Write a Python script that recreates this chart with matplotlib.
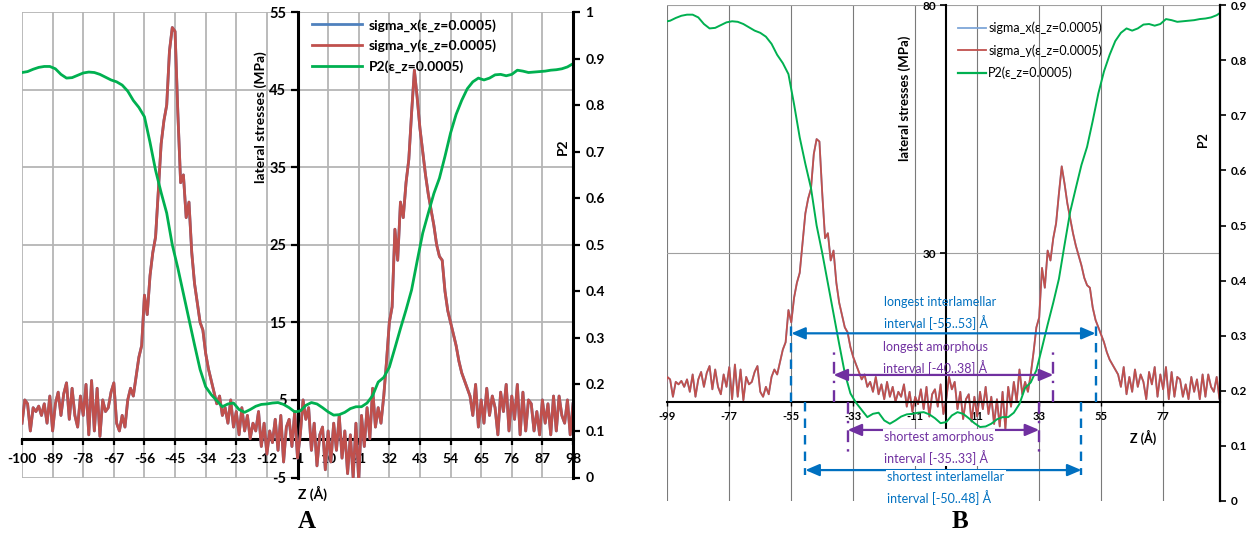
import numpy as np
import matplotlib
matplotlib.use('Agg')
import matplotlib.pyplot as plt
from matplotlib.lines import Line2D

plt.rcParams['font.family'] = ['Lato', 'DejaVu Sans']

# ---------------- data ----------------
z = np.arange(-100, 99)  # Z (Å), one category per Å

sigma_y = [
    2.0, 5.0, 4.5, 1.0, 4.0, 3.5, 4.2, 3.0, 4.5, 2.0,        # -100..-91
    5.5, 1.0, 4.5, 6.0, 3.0, 5.8, 7.2, 2.5, 6.5, 3.0,        # -90..-81
    1.5, 5.5, 3.0, 7.0, 0.5, 7.5, 1.0, 6.5, 0.3, 5.0,        # -80..-71
    3.5, 4.0, 6.0, 7.2, 2.0, 1.0, 3.0, 1.5, 5.0, 6.5,        # -70..-61
    5.5, 8.0, 10.5, 12.0, 18.5, 16.0, 21.0, 24.0, 26.0, 32.0,  # -60..-51
    38.0, 41.0, 43.0, 50.0, 53.0, 52.5, 42.0, 33.0, 34.0, 28.5,  # -50..-41
    30.5, 24.0, 20.0, 17.5, 15.0, 14.0, 11.0, 9.0, 7.5, 6.0,   # -40..-31
    4.5, 5.5, 3.0, 4.0, 2.0, 5.0, 1.5, 3.5, 0.5, 4.0,        # -30..-21
    1.0, 3.0, 0.0, 2.0, 1.0, 3.5, -1.0, 2.0, -2.0, 1.0,      # -20..-11
    -0.5, 2.5, -1.5, 3.0, -3.0, 1.5, 2.5, -1.0, 3.5, -2.5,   # -10..-1
    0.5, 5.0, 2.5, 4.0, -1.5, 2.0, -3.5, 0.5, 1.5, -4.0,     # 0..9
    1.0, -3.0, 2.0, -1.5, 3.0, -2.5, 1.0, -4.5, 0.5, -5.0,   # 10..19
    2.0, -5.5, 3.0, -1.0, 4.0, 0.0, 6.5, 1.5, 4.0, 2.0,      # 20..29
    5.5, 10.0, 15.0, 17.0, 27.0, 23.0, 30.5, 28.5, 33.0, 36.0,  # 30..39
    42.0, 47.5, 44.0, 40.0, 37.0, 34.0, 31.5, 29.5, 27.5, 25.0,  # 40..49
    23.5, 23.0, 19.0, 16.5, 15.0, 13.5, 12.0, 10.0, 8.5, 7.5,  # 50..59
    6.5, 5.5, 3.0, 7.0, 1.5, 5.0, 2.0, 6.5, 3.0, 5.5,        # 60..69
    4.0, 0.5, 6.0, 3.5, 7.0, 1.0, 5.5, 2.5, 7.0, 0.5,        # 70..79
    6.0, 1.0, 5.0, 4.5, 1.0, 3.5, 0.5, 5.0, 2.0, 4.5,        # 80..89
    0.5, 5.5, 1.0, 5.5, 3.0, 2.0, 5.0, 0.5, 4.5,             # 90..98
]
# the blue sigma_x series lies exactly underneath the red sigma_y series
sigma_x = list(sigma_y)

p2_z = np.arange(-100, 99, 2)
p2 = [
    0.870, 0.872, 0.877, 0.881, 0.883, 0.883, 0.878, 0.866, 0.858, 0.859,  # -100..-82
    0.864, 0.869, 0.871, 0.870, 0.866, 0.860, 0.854, 0.850, 0.843, 0.830,  # -80..-62
    0.810, 0.795, 0.775, 0.720, 0.660, 0.612, 0.568, 0.500, 0.450, 0.395,  # -60..-42
    0.340, 0.285, 0.232, 0.195, 0.178, 0.165, 0.152, 0.158, 0.160, 0.146,  # -40..-22
    0.140, 0.146, 0.153, 0.157, 0.158, 0.160, 0.161, 0.157, 0.150, 0.141,  # -20..-2
    0.143, 0.155, 0.161, 0.158, 0.150, 0.141, 0.134, 0.135, 0.140, 0.148,  # 0..18
    0.152, 0.152, 0.160, 0.176, 0.205, 0.215, 0.237, 0.278, 0.320, 0.360,  # 20..38
    0.403, 0.465, 0.525, 0.568, 0.610, 0.643, 0.690, 0.740, 0.780, 0.810,  # 40..58
    0.835, 0.850, 0.858, 0.854, 0.858, 0.865, 0.866, 0.863, 0.866, 0.875,  # 60..78
    0.873, 0.870, 0.871, 0.872, 0.873, 0.875, 0.876, 0.878, 0.882, 0.889,  # 80..98
]

series_names = ['sigma_x(ε_z=0.0005)', 'sigma_y(ε_z=0.0005)', 'P2(ε_z=0.0005)']

xticks_A = list(range(-100, 99, 11))
yticks_A = [-5, 5, 15, 25, 35, 45, 55]
p2ticks_A = [0, 0.1, 0.2, 0.3, 0.4, 0.5, 0.6, 0.7, 0.8, 0.9, 1.0]
p2labels_A = ['0', '0.1', '0.2', '0.3', '0.4', '0.5', '0.6', '0.7', '0.8', '0.9', '1']

xticks_B = list(range(-99, 78, 22))
yticks_B = [30, 80]
p2ticks_B = [0, 0.1, 0.2, 0.3, 0.4, 0.5, 0.6, 0.7, 0.8, 0.9]
p2labels_B = ['0', '0.1', '0.2', '0.3', '0.4', '0.5', '0.6', '0.7', '0.8', '0.9']

# intervals annotated in panel B: (text, low, high)
intervals = [
    ('longest interlamellar\ninterval [-55..53] Å', -55, 53),
    ('longest amorphous\ninterval [-40..38] Å', -40, 38),
    ('shortest amorphous\ninterval [-35..33] Å', -35, 33),
    ('shortest interlamellar\ninterval [-50..48] Å', -50, 48),
]

# ---------------- figure ----------------
W, H = 1257, 535
fig = plt.figure(figsize=(W / 100, H / 100), dpi=100)


def box(l, t, r, b):
    return [l / W, 1 - b / H, (r - l) / W, (b - t) / H]


def fx(x):
    return x / W


def fy(y):
    return 1 - y / H


RED = '#C0504D'
GREEN = '#00B050'

# ================= Panel A =================
axA = fig.add_axes(box(22, 12, 573, 477.5))
axA.set_xlim(-100, 98)
axA.set_ylim(-5, 55)
axA.set_xticks(xticks_A)
axA.set_xticklabels([str(v) for v in xticks_A])
axA.set_yticks(yticks_A)
axA.set_yticklabels([str(v) for v in yticks_A])
axA.grid(True, color='#b5b5b5', lw=1.3)
axA.set_axisbelow(True)
for s in ['top', 'right']:
    axA.spines[s].set_visible(False)
axA.spines['bottom'].set_position(('data', 0))
axA.spines['left'].set_position(('data', -1))
for s in ['bottom', 'left']:
    axA.spines[s].set_linewidth(2.2)
    axA.spines[s].set_color('black')
    axA.spines[s].set_zorder(1.5)
axA.tick_params(axis='x', direction='out', length=4, width=1.6, pad=6,
                labelsize=10)
axA.tick_params(axis='y', direction='out', length=5, width=1.6, pad=3,
                labelsize=10.5)
for lab in axA.get_xticklabels() + axA.get_yticklabels():
    lab.set_fontweight('bold')

axA.plot(z, sigma_x, color='#4F81BD', lw=2.0)
axA.plot(z, sigma_y, color=RED, lw=2.0)

axA2 = axA.twinx()
axA2.set_ylim(0, 1)
axA2.set_xlim(-100, 98)
axA2.set_yticks(p2ticks_A)
axA2.set_yticklabels(p2labels_A)
for s in ['top', 'left', 'bottom']:
    axA2.spines[s].set_visible(False)
axA2.spines['right'].set_linewidth(2.2)
axA2.tick_params(axis='y', direction='out', length=5, width=1.6, pad=4,
                 labelsize=10)
for lab in axA2.get_yticklabels():
    lab.set_fontweight('bold')
axA2.plot(p2_z, p2, color=GREEN, lw=2.0)

hA = [Line2D([], [], color='#4F81BD', lw=2.0),
      Line2D([], [], color=RED, lw=2.0),
      Line2D([], [], color=GREEN, lw=2.0)]
legA = axA2.legend(hA, series_names, loc='upper left',
                   bbox_to_anchor=(fx(309), fy(16)),
                   bbox_transform=fig.transFigure, frameon=False,
                   borderpad=0.2, borderaxespad=0,
                   handlelength=3.6, handletextpad=0.5, labelspacing=0.58,
                   prop=dict(weight='bold', size=10))

fig.text(fx(261), fy(117), 'lateral stresses (MPa)', rotation=90,
         ha='center', va='center', fontsize=10, fontweight='bold')
fig.text(fx(563), fy(147), 'P2', rotation=90, ha='center', va='center',
         fontsize=10, fontweight='bold')
fig.text(fx(312), fy(493), 'Z (Å)', ha='center', va='center',
         fontsize=10, fontweight='bold')
fig.text(fx(307), fy(521), 'A', ha='center', va='center', fontsize=18,
         fontweight='bold', family='Liberation Serif')

# ================= Panel B =================
axB = fig.add_axes(box(667.3, 5.3, 1219.5, 500.8))
axB.set_xlim(-99, 97)
axB.set_ylim(-20, 80)
axB.set_xticks(xticks_B)
axB.set_xticklabels([str(v) for v in xticks_B])
axB.set_yticks(yticks_B)
axB.set_yticklabels([str(v) for v in yticks_B])
axB.grid(True, axis='x', color='#7a7a7a', lw=0.8)
axB.grid(True, axis='y', color='#a0a0a0', lw=0.8)
axB.set_axisbelow(True)
for s in ['top', 'right']:
    axB.spines[s].set_visible(False)
axB.spines['bottom'].set_position(('data', 0))
axB.spines['left'].set_position(('data', 0))
for s in ['bottom', 'left']:
    axB.spines[s].set_linewidth(1.5)
    axB.spines[s].set_color('black')
axB.tick_params(axis='x', direction='out', length=3, width=1.0, pad=4,
                labelsize=8)
axB.tick_params(axis='y', direction='out', length=4, width=1.2, pad=3,
                labelsize=8.5)
for lab in axB.get_xticklabels() + axB.get_yticklabels():
    lab.set_fontweight('bold')

axB.plot(z, sigma_x, color='#7EA6D8', lw=1.3)
axB.plot(z, sigma_y, color=RED, lw=1.3)

axB2 = axB.twinx()
axB2.set_yticks(p2ticks_B)
axB2.set_yticklabels(p2labels_B)
for s in ['top', 'left', 'bottom']:
    axB2.spines[s].set_visible(False)
axB2.spines['right'].set_linewidth(1.6)
axB2.tick_params(axis='y', direction='out', length=4, width=1.2, pad=4,
                 labelsize=8.5)
for lab in axB2.get_yticklabels():
    lab.set_fontweight('bold')
axB2.plot(p2_z, p2, color=GREEN, lw=1.4)

# interval annotations (drawn above the curves, in stress coordinates)
BLUE = '#0070C0'
PURPLE = '#7030A0'
ann_style = [
    # arrow_y, dash_end, color, dash pattern, text_x, text_y, white box
    (13.8, 16.0, BLUE, (0, (4, 3)), -22.0, 17.8, False),
    (5.4, 10.3, PURPLE, (0, (5, 3, 1, 3)), -22.6, 8.8, False),
    (-5.7, -10.2, PURPLE, (0, (5, 3, 1, 3)), -22.0, -9.3, True),
    (-13.8, -14.8, BLUE, (0, (4, 3)), -21.0, -17.4, True),
]
tB = axB.transData
for (txt, lo, hi), (ay, dend, col, dash, tx, ty, wb) in zip(intervals, ann_style):
    for xv in (lo, hi):
        axB2.add_line(Line2D([xv, xv], [0, dend], transform=tB, color=col,
                             ls=dash, lw=1.7))
    axB2.annotate('', xy=(hi, ay), xytext=(lo, ay), xycoords=tB,
                  textcoords=tB,
                  arrowprops=dict(arrowstyle='<|-|>,head_length=0.7,head_width=0.3',
                                  color=col, lw=1.6, shrinkA=0, shrinkB=0,
                                  mutation_scale=12))
    bb = dict(facecolor='white', edgecolor='none', pad=1.0) if wb else None
    axB2.text(tx, ty, txt, transform=tB, color=col, fontsize=9,
              ha='left', va='center', linespacing=1.55, bbox=bb)

axB2.set_xlim(-99, 97)
axB2.set_ylim(0, 0.9)

hB = [Line2D([], [], color='#7EA6D8', lw=1.3),
      Line2D([], [], color=RED, lw=1.3),
      Line2D([], [], color=GREEN, lw=1.6)]
legB = axB2.legend(hB, series_names, loc='upper left',
                   bbox_to_anchor=(fx(955), fy(19)),
                   bbox_transform=fig.transFigure, frameon=False,
                   borderpad=0.2, borderaxespad=0,
                   handlelength=2.3, handletextpad=0.15, labelspacing=0.8,
                   prop=dict(size=9))

fig.text(fx(905), fy(98), 'lateral stresses (MPa)', rotation=90,
         ha='center', va='center', fontsize=9.5, fontweight='bold')
fig.text(fx(1203), fy(140), 'P2', rotation=90, ha='center', va='center',
         fontsize=9, fontweight='bold')
fig.text(fx(1143), fy(437), 'Z (Å)', ha='center', va='center',
         fontsize=9, fontweight='bold')
fig.text(fx(960), fy(521), 'B', ha='center', va='center', fontsize=18,
         fontweight='bold', family='Liberation Serif')

fig.savefig('out.png', dpi=100)
